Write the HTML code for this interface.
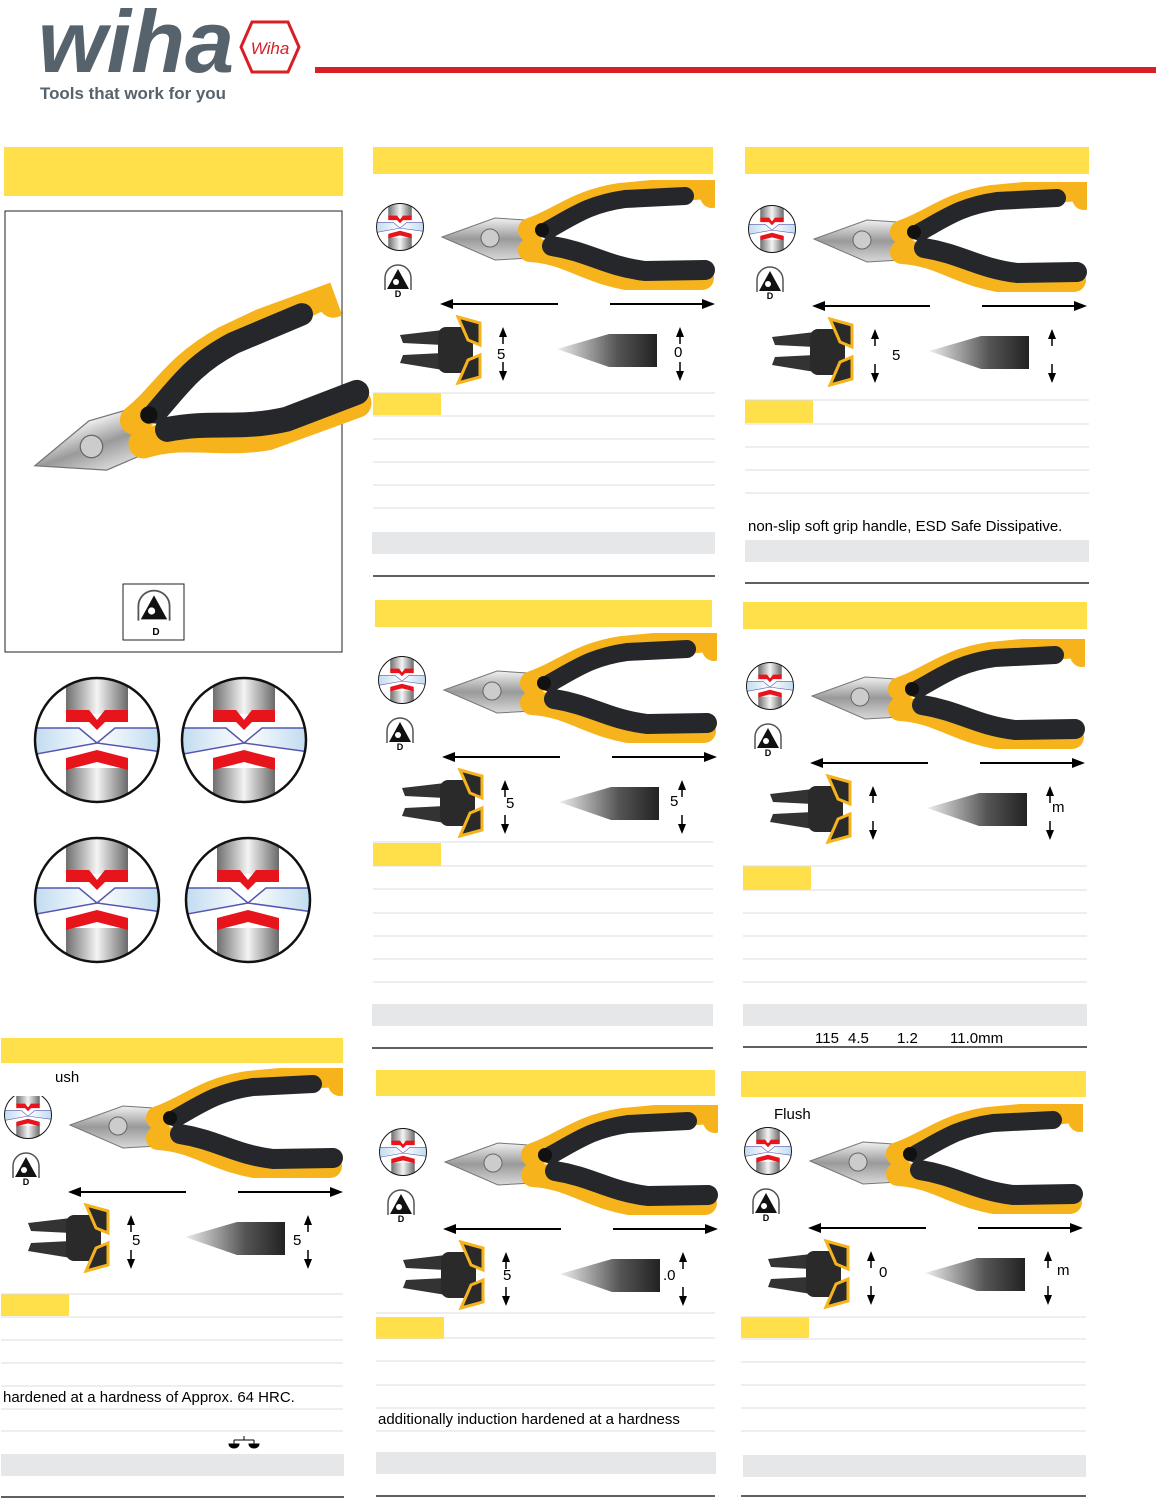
<!DOCTYPE html>
<html><head><meta charset="utf-8"><style>
html,body{margin:0;padding:0;background:#fff;}
svg{display:block;font-family:"Liberation Sans",sans-serif;}
</style></head><body>
<svg width="1156" height="1499" viewBox="0 0 1156 1499" xmlns="http://www.w3.org/2000/svg">
<defs>
<linearGradient id="cyl" x1="0" x2="1"><stop offset="0" stop-color="#6f6f6f"/><stop offset="0.5" stop-color="#f4f4f4"/><stop offset="1" stop-color="#6a6a6a"/></linearGradient>
<linearGradient id="blu" x1="0" x2="1"><stop offset="0" stop-color="#bcd9ef"/><stop offset="0.5" stop-color="#fff"/><stop offset="1" stop-color="#bcd9ef"/></linearGradient>
<linearGradient id="jaw" x1="0" y1="0" x2="0" y2="1"><stop offset="0" stop-color="#f0f0f0"/><stop offset="0.5" stop-color="#9a9a9a"/><stop offset="1" stop-color="#d8d8d8"/></linearGradient>
<linearGradient id="tipg" x1="0" x2="1"><stop offset="0" stop-color="#eee"/><stop offset="0.6" stop-color="#555"/><stop offset="1" stop-color="#222"/></linearGradient>
<symbol id="pl" viewBox="0 0 275 110">
  <polygon points="2,57 55,38 85,40 90,78 55,80" fill="url(#jaw)" stroke="#777" stroke-width="1"/>
  <circle cx="50" cy="58" r="9" fill="#ccc" stroke="#666"/>
  <path d="M90,50 C120,40 135,22 180,15 L255,8 C268,6 275,10 272,16" fill="none" stroke="#f6b31c" stroke-width="24" stroke-linecap="round"/>
  <path d="M108,50 C135,35 150,24 185,19 L245,16" fill="none" stroke="#26272a" stroke-width="18" stroke-linecap="round"/>
  <path d="M90,70 C130,72 150,95 200,100 L262,98" fill="none" stroke="#f6b31c" stroke-width="24" stroke-linecap="round"/>
  <path d="M112,66 C150,72 165,86 205,91 L265,90" fill="none" stroke="#26272a" stroke-width="20" stroke-linecap="round"/>
  <circle cx="102" cy="50" r="7" fill="#111"/>
</symbol>
<symbol id="ci" viewBox="-66 -66 132 132">
  <clipPath id="cc"><circle r="62"/></clipPath>
  <g clip-path="url(#cc)">
    <rect x="-66" y="-66" width="132" height="132" fill="#fff"/>
    <rect x="-31" y="-66" width="62" height="40" fill="url(#cyl)"/>
    <rect x="-31" y="28" width="62" height="40" fill="url(#cyl)"/>
    <polygon points="-66,-12 -18,-12 0,3 18,-12 66,-12 66,12 0,3 -66,15" fill="url(#blu)" stroke="#5656b0" stroke-width="1.5"/>
    <polygon points="-31,-30 -8,-30 0,-20 8,-30 31,-30 31,-18 8,-18 0,-10 -8,-18 -31,-18" fill="#e8141c"/>
    <polygon points="-31,18 0,10 31,18 31,30 0,22 -31,30" fill="#e8141c"/>
  </g>
  <circle r="62" fill="none" stroke="#111" stroke-width="2.5"/>
</symbol>
<symbol id="esd" viewBox="0 0 30 30">
  <path d="M2,28 L2,16 A13,13 0 0 1 28,16 L28,28" fill="#fff" stroke="#555" stroke-width="1.5"/>
  <polygon points="15,7 26,27 4,27" fill="#111"/>
  <circle cx="13" cy="20" r="3" fill="#fff"/>
</symbol>
<symbol id="tipL" viewBox="0 0 85 70">
  <polygon points="2,20 45,15 45,30 5,28" fill="#333"/>
  <polygon points="5,40 45,38 45,55 2,48" fill="#333"/>
  <rect x="40" y="12" width="35" height="46" rx="8" fill="#2a2a2a"/>
  <path d="M60,2 L82,8 L82,30 L70,25 Z" fill="#2a2a2a" stroke="#f6b31c" stroke-width="3"/>
  <path d="M60,68 L82,62 L82,40 L70,45 Z" fill="#2a2a2a" stroke="#f6b31c" stroke-width="3"/>
</symbol>
<symbol id="tipR" viewBox="0 0 100 35">
  <polygon points="0,17 52,2 100,2 100,35 52,35" fill="url(#tipg)"/>
</symbol>
<symbol id="top" viewBox="0 0 345 245" overflow="visible">
  <use href="#ci" x="2" y="55" width="50" height="50"/>
  <use href="#esd" x="10" y="115" width="30" height="30"/>
  <text x="25" y="150" font-size="9" font-weight="bold" text-anchor="middle">D</text>
  <use href="#pl" x="67" y="33" width="275" height="110"/>
  <line x1="78" y1="157" x2="185" y2="157" stroke="#000" stroke-width="2"/>
  <polygon points="67,157 80,152 80,162" fill="#000"/>
  <line x1="237" y1="157" x2="330" y2="157" stroke="#000" stroke-width="2"/>
  <polygon points="342,157 329,152 329,162" fill="#000"/>
  <use href="#tipL" x="25" y="168" width="85" height="70"/>
  <use href="#tipR" x="184" y="185" width="100" height="35"/>
  <line x1="130" y1="188" x2="130" y2="197" stroke="#000" stroke-width="1.5"/>
  <polygon points="130,180 126,190 134,190" fill="#000"/>
  <line x1="130" y1="215" x2="130" y2="226" stroke="#000" stroke-width="1.5"/>
  <polygon points="130,234 126,224 134,224" fill="#000"/>
  <line x1="307" y1="188" x2="307" y2="197" stroke="#000" stroke-width="1.5"/>
  <polygon points="307,180 303,190 311,190" fill="#000"/>
  <line x1="307" y1="215" x2="307" y2="226" stroke="#000" stroke-width="1.5"/>
  <polygon points="307,234 303,224 311,224" fill="#000"/>
</symbol>
</defs>

<!-- header -->
<text x="38" y="72" font-size="88" font-weight="bold" font-style="italic" fill="#56636d" textLength="196" lengthAdjust="spacingAndGlyphs">wiha</text>
<polygon points="252,22 288,22 299,47 288,72 252,72 241,47" fill="#fff" stroke="#d81f26" stroke-width="3"/>
<text x="270" y="54" font-size="17" font-style="italic" fill="#d81f26" text-anchor="middle">Wiha</text>
<text x="40" y="99" font-size="17" font-weight="bold" fill="#56636d" textLength="186" lengthAdjust="spacingAndGlyphs">Tools that work for you</text>
<rect x="315" y="67" width="841" height="6" fill="#d81f26"/>

<!-- left big box -->
<rect x="4" y="147" width="339" height="49" fill="#ffe04a"/>
<rect x="5" y="211" width="337" height="441" fill="#fff" stroke="#222" stroke-width="1"/>
<use href="#pl" width="343" height="137" transform="translate(8,400) rotate(-20)"/>
<rect x="123" y="584" width="61" height="56" fill="#fff" stroke="#222"/>
<use href="#esd" x="136" y="587" width="36" height="36"/>
<text x="156" y="635" font-size="10" font-weight="bold" text-anchor="middle">D</text>

<use href="#ci" x="31" y="674" width="132" height="132"/>
<use href="#ci" x="178" y="674" width="132" height="132"/>
<use href="#ci" x="31" y="834" width="132" height="132"/>
<use href="#ci" x="182" y="834" width="132" height="132"/>

<g fill="#ffe04a">
<rect x="373" y="147" width="340" height="27"/>
<rect x="745" y="147" width="344" height="27"/>
<rect x="375" y="600" width="337" height="27"/>
<rect x="743" y="602" width="344" height="27"/>
<rect x="1" y="1038" width="342" height="25"/>
<rect x="376" y="1070" width="339" height="26"/>
<rect x="741" y="1071" width="345" height="26"/>
</g>

<!-- P1 -->
<g transform="translate(373,147)">
<use href="#top" width="345" height="245"/>
<text x="124" y="212" font-size="15">5</text><text x="301" y="210" font-size="15">0</text>
<rect x="0" y="246" width="68" height="22" fill="#ffe04a"/>
<g stroke="#ddd"><line x1="0" x2="342" y1="246" y2="246"/><line x1="0" x2="342" y1="269" y2="269"/><line x1="0" x2="342" y1="292" y2="292"/><line x1="0" x2="342" y1="315" y2="315"/><line x1="0" x2="342" y1="338" y2="338"/><line x1="0" x2="342" y1="361" y2="361"/></g>
<rect x="-1" y="385" width="343" height="22" fill="#e6e7e8"/>
<line x1="0" x2="342" y1="429" y2="429" stroke="#000" stroke-width="1.2"/>
</g>
<!-- P2 -->
<g transform="translate(745,149)">
<use href="#top" width="345" height="245"/>
<text x="147" y="211" font-size="15">5</text>
<rect x="0" y="251" width="68" height="23" fill="#ffe04a"/>
<g stroke="#ddd"><line x1="0" x2="344" y1="251" y2="251"/><line x1="0" x2="344" y1="275" y2="275"/><line x1="0" x2="344" y1="298" y2="298"/><line x1="0" x2="344" y1="321" y2="321"/><line x1="0" x2="344" y1="344" y2="344"/></g>
<text x="3" y="382" font-size="15">non-slip soft grip handle, ESD Safe Dissipative.</text>
<rect x="0" y="391" width="344" height="22" fill="#e6e7e8"/>
<line x1="0" x2="344" y1="434" y2="434" stroke="#000" stroke-width="1.2"/>
</g>
<!-- P3 -->
<g transform="translate(375,600)">
<use href="#top" width="345" height="245"/>
<text x="131" y="208" font-size="15">5</text><text x="295" y="206" font-size="15">5</text>
<rect x="-2" y="243" width="68" height="23" fill="#ffe04a"/>
<g stroke="#ddd"><line x1="-2" x2="338" y1="242" y2="242"/><line x1="-2" x2="338" y1="266" y2="266"/><line x1="-2" x2="338" y1="289" y2="289"/><line x1="-2" x2="338" y1="313" y2="313"/><line x1="-2" x2="338" y1="336" y2="336"/><line x1="-2" x2="338" y1="359" y2="359"/><line x1="-2" x2="338" y1="382" y2="382"/></g>
<rect x="-3" y="404" width="341" height="22" fill="#e6e7e8"/>
<line x1="-3" x2="338" y1="448" y2="448" stroke="#000" stroke-width="1.2"/>
</g>
<!-- P4 -->
<g transform="translate(743,606)">
<use href="#top" width="345" height="245"/>
<text x="309" y="206" font-size="15">m</text>
<rect x="0" y="260" width="68" height="24" fill="#ffe04a"/>
<g stroke="#ddd"><line x1="0" x2="344" y1="260" y2="260"/><line x1="0" x2="344" y1="284" y2="284"/><line x1="0" x2="344" y1="307" y2="307"/><line x1="0" x2="344" y1="330" y2="330"/><line x1="0" x2="344" y1="353" y2="353"/><line x1="0" x2="344" y1="376" y2="376"/></g>
<rect x="0" y="398" width="344" height="22" fill="#e6e7e8"/>
<text y="437" font-size="15"><tspan x="72">115</tspan><tspan x="105">4.5</tspan><tspan x="154">1.2</tspan><tspan x="207">11.0mm</tspan></text>
<line x1="0" x2="344" y1="441" y2="441" stroke="#000" stroke-width="1.2"/>
</g>
<!-- P5 -->
<g transform="translate(1,1035)">
<use href="#top" width="345" height="245"/>
<rect x="0" y="45" width="80" height="16" fill="#fff"/>
<text x="54" y="47" font-size="15">ush</text>
<text x="131" y="210" font-size="15">5</text><text x="292" y="210" font-size="15">5</text>
<rect x="0" y="259" width="68" height="22" fill="#ffe04a"/>
<g stroke="#ddd"><line x1="0" x2="342" y1="259" y2="259"/><line x1="0" x2="342" y1="282" y2="282"/><line x1="0" x2="342" y1="305" y2="305"/><line x1="0" x2="342" y1="328" y2="328"/><line x1="0" x2="342" y1="351" y2="351"/><line x1="0" x2="342" y1="374" y2="374"/><line x1="0" x2="342" y1="396" y2="396"/></g>
<text x="2" y="367" font-size="15">hardened at a hardness of Approx. 64 HRC.</text>
<g fill="#000" stroke="#000"><line x1="233" y1="405" x2="253" y2="405"/><line x1="243" y1="401" x2="243" y2="405"/><line x1="233" y1="405" x2="233" y2="409"/><line x1="253" y1="405" x2="253" y2="409"/><path d="M228,409 h10 a5,4 0 0 1 -10,0z"/><path d="M248,409 h10 a5,4 0 0 1 -10,0z"/></g>
<rect x="0" y="419" width="343" height="22" fill="#e6e7e8"/>
<line x1="0" x2="343" y1="462" y2="462" stroke="#000" stroke-width="1.2"/>
</g>
<!-- P6 -->
<g transform="translate(376,1072)">
<use href="#top" width="345" height="245"/>
<text x="127" y="208" font-size="15">5</text><text x="287" y="208" font-size="15">.0</text>
<rect x="0" y="245" width="68" height="22" fill="#ffe04a"/>
<g stroke="#ddd"><line x1="0" x2="339" y1="241" y2="241"/><line x1="0" x2="339" y1="266" y2="266"/><line x1="0" x2="339" y1="289" y2="289"/><line x1="0" x2="339" y1="313" y2="313"/><line x1="0" x2="339" y1="336" y2="336"/><line x1="0" x2="339" y1="359" y2="359"/></g>
<text x="2" y="352" font-size="15">additionally induction hardened at a hardness</text>
<rect x="0" y="380" width="340" height="22" fill="#e6e7e8"/>
<line x1="0" x2="339" y1="424" y2="424" stroke="#000" stroke-width="1.2"/>
</g>
<!-- P7 -->
<g transform="translate(741,1071)">
<use href="#top" width="345" height="245"/>
<text x="33" y="48" font-size="15">Flush</text>
<text x="138" y="206" font-size="15">0</text><text x="316" y="204" font-size="15">m</text>
<rect x="0" y="246" width="68" height="21" fill="#ffe04a"/>
<g stroke="#ddd"><line x1="0" x2="345" y1="246" y2="246"/><line x1="0" x2="345" y1="268" y2="268"/><line x1="0" x2="345" y1="291" y2="291"/><line x1="0" x2="345" y1="314" y2="314"/><line x1="0" x2="345" y1="337" y2="337"/><line x1="0" x2="345" y1="360" y2="360"/></g>
<rect x="2" y="384" width="343" height="22" fill="#e6e7e8"/>
<line x1="0" x2="345" y1="425" y2="425" stroke="#000" stroke-width="1.2"/>
</g>
</svg>
</body></html>
